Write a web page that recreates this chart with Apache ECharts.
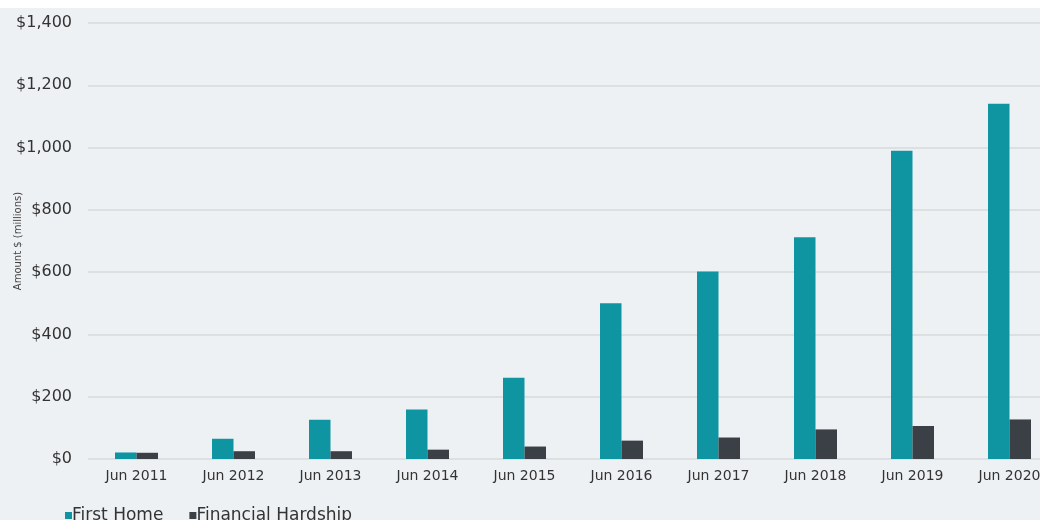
<!DOCTYPE html>
<html><head><meta charset="utf-8">
<script src="https://cdn.jsdelivr.net/npm/echarts@6/dist/echarts.min.js"></script>
<style>html,body{margin:0;padding:0;background:#fff}#c{width:1040px;height:520px}</style>
</head><body><div id="c"></div>
<script>
const categories = ['Jun 2011','Jun 2012','Jun 2013','Jun 2014','Jun 2015','Jun 2016','Jun 2017','Jun 2018','Jun 2019','Jun 2020'];
const firstHome = [21, 65, 126, 159, 261, 500, 602, 712, 990, 1141];
const financialHardship = [20, 25, 25, 30, 40, 59, 69, 95, 106, 127];
const yTicks = [0, 200, 400, 600, 800, 1000, 1200, 1400];

const chart = echarts.init(document.getElementById('c'), null, {renderer:'canvas'});
const font = 'DejaVu Sans, Verdana, sans-serif';
chart.setOption({
  backgroundColor: '#eef1f4',
  animation: false,
  graphic: [{type:'rect', shape:{x:0,y:0,width:1040,height:8}, style:{fill:'#ffffff'}, silent:true}],
  grid: {left: 88, right: -18, top: 23, bottom: 61, containLabel: false, outerBoundsMode: 'none'},
  legend: {
    left: 60, top: 502, itemWidth: 7, itemHeight: 7, itemGap: 26,
    icon: 'rect',
    textStyle: {fontFamily: font, fontSize: 17, color: '#333', padding:[0,0,0,-5]},
    data: ['First Home','Financial Hardship']
  },
  xAxis: {
    type: 'category', data: categories,
    axisLine: {show: false}, axisTick: {show: false},
    axisLabel: {fontFamily: font, fontSize: 14, color: '#333', margin: 10}
  },
  yAxis: {
    type: 'value', min: yTicks[0], max: yTicks[yTicks.length-1], interval: 200,
    name: 'Amount $ (millions)', nameLocation: 'middle', nameGap: 65, nameRotate: 90,
    nameMoveOverlap: false,
    nameTextStyle: {fontFamily: font, fontSize: 10, color: '#444'},
    axisLine: {show: false}, axisTick: {show: false},
    axisLabel: {fontFamily: font, fontSize: 16, color: '#333', margin: 16,
      formatter: v => '$' + v.toLocaleString('en-US')},
    splitLine: {lineStyle: {color: '#d6dade', width: 1.5}}
  },
  series: [
    {name: 'First Home', type: 'bar', data: firstHome, barWidth: 21.5, barGap: '0%',
     itemStyle: {color: '#0f95a1'}},
    {name: 'Financial Hardship', type: 'bar', data: financialHardship, barWidth: 21.5,
     itemStyle: {color: '#3b4047'}}
  ]
});
</script></body></html>
